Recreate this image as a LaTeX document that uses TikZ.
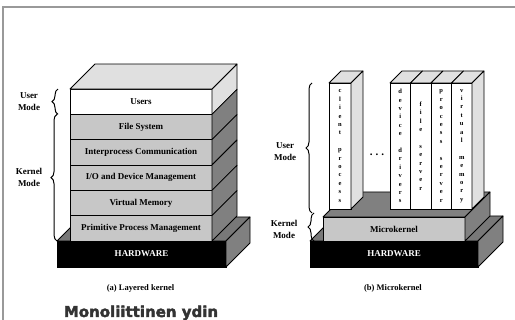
\documentclass[tikz,border=0pt]{standalone}
\usepackage{fontspec}
\setmainfont{Liberation Serif}
\newfontfamily\heavyfont[BoldFeatures={FakeBold=2.5}]{DejaVu Sans}
\usepackage{xcolor}
\usetikzlibrary{decorations.pathreplacing, positioning}

\definecolor{topgray}{gray}{0.88}
\definecolor{layergray}{gray}{0.78}
\definecolor{sidegray}{gray}{0.5}
\definecolor{hwtop}{gray}{0.47}
\definecolor{framegray}{gray}{0.6}

\tikzset{
  layer/.style={draw, thick, rectangle, fill=layergray, minimum width=142pt, minimum height=25.33pt, inner sep=0pt, outer sep=0pt},
  hwbox/.style={draw, thick, rectangle, fill=black, text=white, minimum width=169pt, minimum height=26pt, inner sep=0pt, outer sep=0pt},
  column/.style={draw, thick, rectangle, fill=white, minimum height=126pt, inner sep=0pt, outer sep=0pt, align=center, font=\bfseries\fontsize{6.5}{8.4}\selectfont},
  face/.style={draw, thick, line join=round},
  modebrace/.style={line width=1pt, decorate, decoration={brace, amplitude=6pt}},
  modetext/.style={align=center, font=\bfseries\fontsize{9}{12}\selectfont}
}

\begin{document}
\begin{tikzpicture}[x=1pt, y=-1pt, every node/.style={font=\bfseries\fontsize{9}{10}\selectfont}]
\useasboundingbox (0,0) rectangle (515,320);
\draw[framegray, line width=1.2pt] (515,7) -- (3,7) -- (3,320);

% (a) layered kernel
\node[hwbox] (hwa) at (141.5,254) {HARDWARE};
\filldraw[face, fill=hwtop] (hwa.north west) -- ++(24,-24) -- ++(169,0) -- (hwa.north east) -- cycle;
\filldraw[face, fill=sidegray] (hwa.north east) -- ++(24,-24) -- ++(0,26) -- (hwa.south east) -- cycle;

\node[layer, fill=white] (users) at (141,101.67) {Users};
\node[layer, below=0pt of users] (fsys) {File System};
\node[layer, below=0pt of fsys] (ipc) {Interprocess Communication};
\node[layer, below=0pt of ipc] (iodev) {I/O and Device Management};
\node[layer, below=0pt of iodev] (vmem) {Virtual Memory};
\node[layer, below=0pt of vmem] (ppm) {Primitive Process Management};
\foreach \lyr/\col in {users/topgray, fsys/sidegray, ipc/sidegray, iodev/sidegray, vmem/sidegray, ppm/sidegray}
  \filldraw[face, fill=\col] (\lyr.north east) -- ++(25,-25) -- ++(0,25.33) -- (\lyr.south east) -- cycle;
\filldraw[face, fill=topgray] (users.north west) -- ++(25,-25) -- ++(142,0) -- (users.north east) -- cycle;

\node[modetext] (umodea) at (29,102) {User\\Mode};
\node[modetext] (kmodea) at (29,177) {Kernel\\Mode};
\draw[modebrace] ([xshift=-12pt]users.south west) -- ([xshift=-12pt]users.north west);
\draw[modebrace] ([xshift=-13pt]ppm.south west) -- ([xshift=-13pt]fsys.north west);

\node[font=\bfseries\fontsize{8.5}{10}\selectfont] (capa) at (140.5,288) {(a) Layered kernel};
\node[anchor=base, text=black!80, font=\heavyfont\bfseries\fontsize{15}{18}\selectfont] (mono) at (141,317) {Monoliittinen ydin};

% (b) microkernel
\node[hwbox, minimum width=168pt] (hwb) at (394,254) {HARDWARE};
\filldraw[face, fill=hwtop] (hwb.north west) -- ++(25,-25) -- ++(168,0) -- (hwb.north east) -- cycle;
\filldraw[face, fill=sidegray] (hwb.north east) -- ++(25,-25) -- ++(0,26) -- (hwb.south east) -- cycle;

\node[layer, minimum height=24pt] (mkern) at (394,229) {Microkernel};
\filldraw[face, fill=sidegray] (mkern.north west) -- ++(25,-25) -- ++(142,0) -- (mkern.north east) -- cycle;
\filldraw[face, fill=sidegray] (mkern.north east) -- ++(25,-25) -- ++(0,24) -- (mkern.south east) -- cycle;

\node[column, minimum width=22pt] (client) at (340,146) {c\\l\\i\\e\\n\\t\\ \\p\\r\\o\\c\\e\\s\\s};
\node[column, minimum width=20.5pt] (ddrv) at (400.25,146) {d\\e\\v\\i\\c\\e\\ \\d\\r\\i\\v\\e\\r\\s};
\node[column, minimum width=20.5pt, right=0pt of ddrv] (fsrv) {f\\i\\l\\e\\ \\s\\e\\r\\v\\e\\r};
\node[column, minimum width=20.5pt, right=0pt of fsrv] (psrv) {p\\r\\o\\c\\e\\s\\s\\ \\s\\e\\r\\v\\e\\r};
\node[column, minimum width=20.5pt, right=0pt of psrv] (vmsrv) {v\\i\\r\\t\\u\\a\\l\\ \\m\\e\\m\\o\\r\\y};
\foreach \col in {client, ddrv, fsrv, psrv, vmsrv}
  \filldraw[face, fill=topgray] (\col.north west) -- ++(12,-12) -- ([xshift=12pt, yshift=12pt]\col.north east) -- (\col.north east) -- cycle;
\foreach \col in {client, vmsrv}
  \filldraw[face, fill=topgray] (\col.north east) -- ++(12,-12) -- ++(0,126) -- (\col.south east) -- cycle;

\node[font=\bfseries\fontsize{11}{12}\selectfont] (dots) at (377,155) {.\hspace{3pt}.\hspace{3pt}.};

\node[modetext] (umodeb) at (285,152) {User\\Mode};
\node[modetext] (kmodeb) at (284,229) {Kernel\\Mode};
\coordinate (ubot) at (312,213);
\coordinate (kbot) at (314,241);
\draw[modebrace] (ubot) -- ([xshift=-17pt]client.north west);
\draw[modebrace] (kbot) -- (kbot |- ubot);

\node[font=\bfseries\fontsize{8.5}{10}\selectfont] (capb) at (393,288) {(b) Microkernel};
\end{tikzpicture}
\end{document}
